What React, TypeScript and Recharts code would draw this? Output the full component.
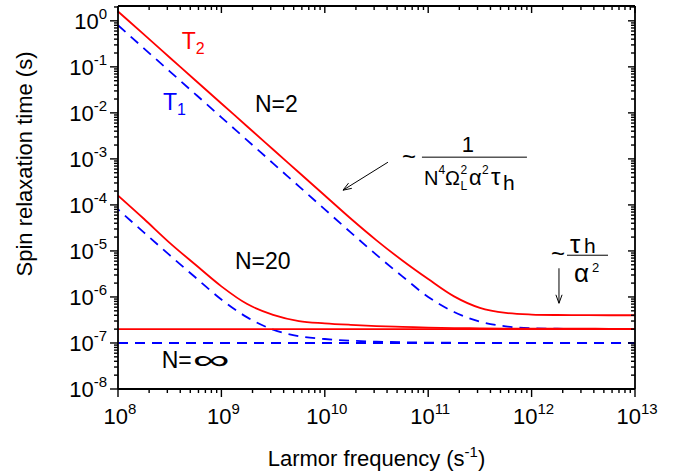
import { useEffect, useState } from 'react';
import { LineChart, Line, XAxis, YAxis, ReferenceDot, ReferenceLine } from 'recharts';

// Larmor frequency (s^-1), quarter-decade steps
const FREQ = [
  1e8, 1.778e8, 3.162e8, 5.623e8, 1e9, 1.778e9, 3.162e9, 5.623e9, 1e10, 1.778e10, 3.162e10,
  5.623e10, 1e11, 1.778e11, 3.162e11, 5.623e11, 1e12, 1.778e12, 3.162e12, 5.623e12, 1e13,
];

// spin relaxation times (s)
const T1_N2 = [
  0.8, 0.253, 0.08, 0.0253, 0.008, 2.53e-3, 8e-4, 2.53e-4, 8e-5, 2.53e-5, 8.2e-6,
  2.8e-6, 1.0e-6, 4.7e-7, 2.9e-7, 2.3e-7, 2.1e-7, 2.04e-7, 2.01e-7, 2.0e-7, 2.0e-7,
];
const T2_N2 = [
  1.6, 0.506, 0.16, 0.0506, 0.016, 5.06e-3, 1.6e-3, 5.06e-4, 1.6e-4, 5.06e-5, 1.7e-5,
  6.2e-6, 2.45e-6, 1.03e-6, 5.8e-7, 4.5e-7, 4.15e-7, 4.05e-7, 4.02e-7, 4.0e-7, 4.0e-7,
];
const T1_N20 = [
  8e-5, 2.53e-5, 8.1e-6, 2.64e-6, 8.8e-7, 3.6e-7, 1.95e-7, 1.4e-7, 1.22e-7, 1.12e-7, 1.07e-7,
  1.04e-7, 1.02e-7, 1.01e-7, 1.0e-7, 1.0e-7, 1.0e-7, 1.0e-7, 1.0e-7, 1.0e-7, 1.0e-7,
];
const T2_N20 = [
  1.6e-4, 5.0e-5, 1.5e-5, 5.0e-6, 1.7e-6, 7.0e-7, 4.1e-7, 3.0e-7, 2.68e-7, 2.48e-7, 2.33e-7,
  2.24e-7, 2.16e-7, 2.11e-7, 2.08e-7, 2.06e-7, 2.05e-7, 2.04e-7, 2.04e-7, 2.03e-7, 2.03e-7,
];
const T1_NINF = [
  1e-7, 1e-7, 1e-7, 1e-7, 1e-7, 1e-7, 1e-7, 1e-7, 1e-7, 1e-7, 1e-7,
  1e-7, 1e-7, 1e-7, 1e-7, 1e-7, 1e-7, 1e-7, 1e-7, 1e-7, 1e-7,
];
const T2_NINF = [
  2e-7, 2e-7, 2e-7, 2e-7, 2e-7, 2e-7, 2e-7, 2e-7, 2e-7, 2e-7, 2e-7,
  2e-7, 2e-7, 2e-7, 2e-7, 2e-7, 2e-7, 2e-7, 2e-7, 2e-7, 2e-7,
];

const X_MAJOR = [1e8, 1e9, 1e10, 1e11, 1e12, 1e13];
const Y_MAJOR = [1e-8, 1e-7, 1e-6, 1e-5, 1e-4, 1e-3, 1e-2, 1e-1, 1e0];
const MINOR = [2, 3, 4, 5, 6, 7, 8, 9];
const Y_TOP = 2.1;

const X_TICKS = [...X_MAJOR, ...X_MAJOR.slice(0, -1).flatMap((d) => MINOR.map((m) => m * d))];
const Y_TICKS = [...Y_MAJOR, ...Y_MAJOR.flatMap((d) => MINOR.map((m) => m * d)).filter((v) => v <= Y_TOP)];

const data = FREQ.map((f, i) => ({
  f,
  t1n2: T1_N2[i],
  t2n2: T2_N2[i],
  t1n20: T1_N20[i],
  t2n20: T2_N20[i],
  t1inf: T1_NINF[i],
  t2inf: T2_NINF[i],
}));

const RED = '#ff0000';
const BLUE = '#0000ff';
const FONT = "'Liberation Sans', Arial, Helvetica, sans-serif";
const DASH = 10;
const GAP = 7;

const isMajor = (v: number) => {
  const e = Math.log10(v);
  return Math.abs(e - Math.round(e)) < 1e-9;
};
const expOf = (v: number) => Math.round(Math.log10(v));

function BottomTick({ x, y, payload }: any) {
  const major = isMajor(payload.value);
  return (
    <g>
      <line x1={x} x2={x} y1={y} y2={y + (major ? 8 : 4)} stroke="#000" strokeWidth={1.4} />
      {major && (
        <text x={x + 2} y={y + 35} textAnchor="middle" fontSize={22} fontFamily={FONT} fill="#000">
          10<tspan dy={-10} fontSize={15}>{expOf(payload.value)}</tspan>
        </text>
      )}
    </g>
  );
}

function TopTick({ x, y, payload }: any) {
  const major = isMajor(payload.value);
  return <line x1={x} x2={x} y1={y} y2={y + (major ? 7 : 4)} stroke="#000" strokeWidth={1.4} />;
}

function LeftTick({ x, y, payload }: any) {
  const major = isMajor(payload.value);
  return (
    <g>
      <line x1={x} x2={x - (major ? 8 : 4)} y1={y} y2={y} stroke="#000" strokeWidth={1.4} />
      {major && (
        <text x={x - 11} y={y + 8} textAnchor="end" fontSize={22} fontFamily={FONT} fill="#000">
          10<tspan dy={-10} fontSize={15}>{expOf(payload.value)}</tspan>
        </text>
      )}
    </g>
  );
}

function RightTick({ x, y, payload }: any) {
  const major = isMajor(payload.value);
  return <line x1={x} x2={x - (major ? 7 : 4)} y1={y} y2={y} stroke="#000" strokeWidth={1.4} />;
}

function Arrow({ x1, y1, x2, y2 }: any) {
  const a = Math.atan2(y2 - y1, x2 - x1);
  const len = 9;
  const w = 0.35;
  const p1 = `${x2 - len * Math.cos(a - w)},${y2 - len * Math.sin(a - w)}`;
  const p2 = `${x2 - len * Math.cos(a + w)},${y2 - len * Math.sin(a + w)}`;
  return (
    <g>
      <line x1={x1} y1={y1} x2={x2} y2={y2} stroke="#000" strokeWidth={1} />
      <polyline points={`${p1} ${x2},${y2} ${p2}`} fill="none" stroke="#000" strokeWidth={1} />
    </g>
  );
}

const axisLine = { stroke: '#000', strokeWidth: 1.8 };
const dashed = { stroke: BLUE, strokeWidth: 1.8, strokeDasharray: `${DASH} ${GAP}` };
const solid = { stroke: RED, strokeWidth: 1.8 };

export default function App() {
  // keep the N=20 and N=inf T1 dashes in step where the two curves merge
  const [dashOffset, setDashOffset] = useState(0);
  useEffect(() => {
    let tries = 0;
    let timer: any;
    const measure = () => {
      const a = document.querySelector('.t1n20 path.recharts-curve') as SVGPathElement | null;
      const b = document.querySelector('.t1inf path.recharts-curve') as SVGPathElement | null;
      if (a && b) {
        const period = DASH + GAP;
        const d = (((b.getTotalLength() - a.getTotalLength()) % period) + period) % period;
        setDashOffset(d);
      } else if (tries++ < 40) {
        timer = setTimeout(measure, 25);
      }
    };
    measure();
    return () => clearTimeout(timer);
  }, []);

  return (
    <div style={{ position: 'absolute', left: 0, top: 0, width: 685, height: 476, background: '#fff' }}>
      <LineChart width={685} height={476} data={data} margin={{ top: 5, right: 49, bottom: 86, left: 117 }}>
        <XAxis
          dataKey="f"
          type="number"
          scale="log"
          domain={[1e8, 1e13]}
          allowDataOverflow
          ticks={X_TICKS}
          interval={0}
          height={1}
          tickSize={0}
          tickMargin={0}
          tickLine={false}
          axisLine={axisLine}
          tick={<BottomTick />}
          label={({ viewBox }: any) => (
            <text
              x={viewBox.x + viewBox.width / 2}
              y={viewBox.y + 77}
              textAnchor="middle"
              fontSize={22}
              fontFamily={FONT}
              fill="#000"
            >
              Larmor frequency (s<tspan dy={-9} fontSize={15}>-1</tspan>
              <tspan dy={9}>)</tspan>
            </text>
          )}
        />
        <XAxis
          xAxisId="top"
          orientation="top"
          dataKey="f"
          type="number"
          scale="log"
          domain={[1e8, 1e13]}
          allowDataOverflow
          ticks={X_TICKS}
          interval={0}
          height={1}
          tickSize={0}
          tickMargin={0}
          tickLine={false}
          axisLine={axisLine}
          tick={<TopTick />}
        />
        <YAxis
          type="number"
          scale="log"
          domain={[1e-8, Y_TOP]}
          allowDataOverflow
          ticks={Y_TICKS}
          interval={0}
          width={1}
          tickSize={0}
          tickMargin={0}
          tickLine={false}
          axisLine={axisLine}
          tick={<LeftTick />}
          label={({ viewBox }: any) => (
            <text
              transform={`translate(32,${viewBox.y + 158}) rotate(-90)`}
              textAnchor="middle"
              fontSize={22}
              fontFamily={FONT}
              fill="#000"
            >
              Spin relaxation time (s)
            </text>
          )}
        />
        <YAxis
          yAxisId="right"
          orientation="right"
          type="number"
          scale="log"
          domain={[1e-8, Y_TOP]}
          allowDataOverflow
          ticks={Y_TICKS}
          interval={0}
          width={1}
          tickSize={0}
          tickMargin={0}
          tickLine={false}
          axisLine={axisLine}
          tick={<RightTick />}
        />

        <Line className="t1inf" type="monotone" dataKey="t1inf" {...dashed} dot={false} isAnimationActive={false} />
        <Line
          className="t1n20"
          type="monotone"
          dataKey="t1n20"
          {...dashed}
          strokeDashoffset={dashOffset}
          dot={false}
          isAnimationActive={false}
        />
        <Line type="monotone" dataKey="t1n2" {...dashed} dot={false} isAnimationActive={false} />
        <Line type="monotone" dataKey="t2inf" {...solid} dot={false} isAnimationActive={false} />
        <Line type="monotone" dataKey="t2n20" {...solid} dot={false} isAnimationActive={false} />
        <Line type="monotone" dataKey="t2n2" {...solid} dot={false} isAnimationActive={false} />

        {/* labels */}
        <ReferenceDot
          x={4.13e8}
          y={0.25}
          r={0}
          shape={(p: any) => (
            <text x={p.cx} y={p.cy} fontSize={23} fontFamily={FONT} fill={RED}>
              T<tspan dy={5} fontSize={16}>2</tspan>
            </text>
          )}
        />
        <ReferenceDot
          x={2.72e8}
          y={0.0115}
          r={0}
          shape={(p: any) => (
            <text x={p.cx} y={p.cy} fontSize={23} fontFamily={FONT} fill={BLUE}>
              T<tspan dy={5} fontSize={16}>1</tspan>
            </text>
          )}
        />
        <ReferenceDot
          x={2.11e9}
          y={0.0105}
          r={0}
          shape={(p: any) => (
            <text x={p.cx} y={p.cy} fontSize={23} fontFamily={FONT} fill="#000">
              N=2
            </text>
          )}
        />
        <ReferenceDot
          x={1.35e9}
          y={4.14e-6}
          r={0}
          shape={(p: any) => (
            <text x={p.cx} y={p.cy} fontSize={23} fontFamily={FONT} fill="#000">
              N=20
            </text>
          )}
        />
        <ReferenceDot
          x={2.65e8}
          y={2.82e-8}
          r={0}
          shape={(p: any) => (
            <g>
              <text x={p.cx} y={p.cy} fontSize={23} fontFamily={FONT} fill="#000">
                N=
              </text>
              <text
                transform={`translate(${p.cx + 31},${p.cy + 1}) scale(2,1.05)`}
                fontSize={26}
                fontFamily={FONT}
                fill="#000"
              >
                ∞
              </text>
            </g>
          )}
        />
        {/* ~ 1 / (N^4 Ω_L^2 α^2 τ_h) */}
        <ReferenceDot
          x={8.7e10}
          y={1.09e-3}
          r={0}
          shape={(p: any) => {
            const { cx, cy } = p;
            return (
              <g fontFamily={FONT} fill="#000">
                <text x={cx - 20} y={cy + 8} fontSize={24}>~</text>
                <text x={cx + 46} y={cy - 5} fontSize={22} textAnchor="middle">1</text>
                <line x1={cx} x2={cx + 105} y1={cy} y2={cy} stroke="#000" strokeWidth={1} />
                <text x={cx + 2} y={cy + 28} fontSize={20}>N</text>
                <text x={cx + 16.5} y={cy + 17} fontSize={12}>4</text>
                <text x={cx + 23} y={cy + 28} fontSize={20}>Ω</text>
                <text x={cx + 38.5} y={cy + 17} fontSize={12}>2</text>
                <text x={cx + 38.5} y={cy + 33} fontSize={12}>L</text>
                <text x={cx + 47} y={cy + 28} fontSize={22}>α</text>
                <text x={cx + 60} y={cy + 17} fontSize={12}>2</text>
                <text x={cx + 69} y={cy + 28} fontSize={24}>τ</text>
                <text x={cx + 81} y={cy + 33} fontSize={21}>h</text>
              </g>
            );
          }}
        />
        {/* ~ τ_h / α^2 */}
        <ReferenceDot
          x={2.2e12}
          y={8.07e-6}
          r={0}
          shape={(p: any) => {
            const { cx, cy } = p;
            return (
              <g fontFamily={FONT} fill="#000">
                <text x={cx - 16} y={cy + 7} fontSize={24}>~</text>
                <text x={cx + 3} y={cy - 2} fontSize={26}>τ</text>
                <text x={cx + 17} y={cy - 2} fontSize={21}>h</text>
                <line x1={cx} x2={cx + 41} y1={cy} y2={cy} stroke="#000" strokeWidth={1} />
                <text x={cx + 7} y={cy + 27} fontSize={26}>α</text>
                <text x={cx + 25} y={cy + 17} fontSize={13}>2</text>
              </g>
            );
          }}
        />
        <ReferenceLine
          segment={[
            { x: 4.08e10, y: 8.47e-4 },
            { x: 1.5e10, y: 2.09e-4 },
          ]}
          shape={(p: any) => <Arrow {...p} />}
        />
        <ReferenceLine
          segment={[
            { x: 1.84e12, y: 4.2e-6 },
            { x: 1.84e12, y: 7.3e-7 },
          ]}
          shape={(p: any) => <Arrow {...p} />}
        />
      </LineChart>
    </div>
  );
}
